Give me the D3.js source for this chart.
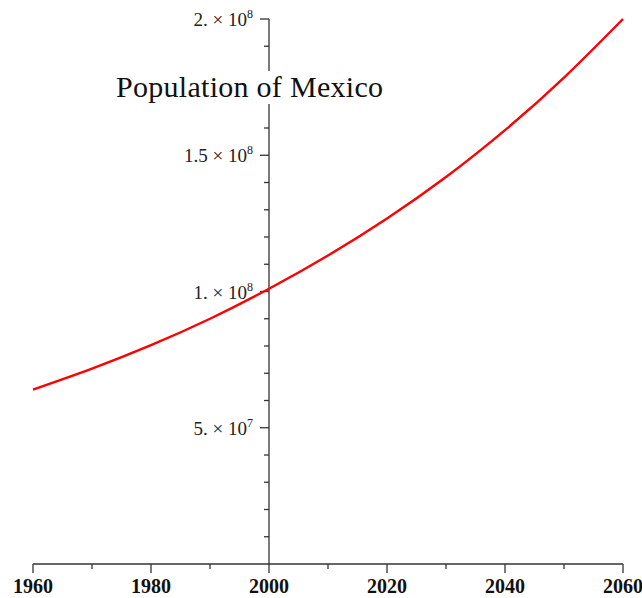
<!DOCTYPE html>
<html>
<head>
<meta charset="utf-8">
<script src="https://cdn.jsdelivr.net/npm/d3@7"></script>
<style>
  body { margin: 0; background: #fff; }
  svg { display: block; }
</style>
</head>
<body>
<div id="chart"></div>
<script>
// values
const years = [1960, 1970, 1980, 1990, 2000, 2010, 2020, 2030, 2040, 2050, 2060];
const population = [6.4e7, 7.17e7, 8.03e7, 9.0e7, 1.01e8, 1.132e8, 1.268e8, 1.42e8, 1.592e8, 1.785e8, 2.0e8];
const xTickValues = [1960, 1980, 2000, 2020, 2040, 2060];
const yTickValues = [5e7, 1e8, 1.5e8, 2e8];
const yTickMant = ["5.", "1.", "1.5", "2."];
const yTickExp = ["7", "8", "8", "8"];
const title = "Population of Mexico";

const width = 642, height = 598;

const svg = d3.select("#chart").append("svg")
    .attr("width", width)
    .attr("height", height);

const xScale = d3.scaleLinear().domain([1960, 2060]).range([33, 623]);
const yScale = d3.scaleLinear().domain([0, 2e8]).range([564, 19]);

const axisColor = "#333";
const serif = "'Liberation Serif', 'Times New Roman', serif";

// x axis (ticks hang below the line)
const xAxis = svg.append("g").attr("transform", "translate(0," + yScale(0) + ")");
xAxis.append("line")
    .attr("x1", xScale(1960)).attr("x2", xScale(2060))
    .attr("stroke", axisColor).attr("stroke-width", 1.3);
xAxis.selectAll(".xtick")
    .data(d3.range(1960, 2061, 10))
    .enter().append("line")
    .attr("x1", d => xScale(d)).attr("x2", d => xScale(d))
    .attr("y1", 0)
    .attr("y2", d => d % 20 === 0 ? 9 : 5)
    .attr("stroke", axisColor).attr("stroke-width", 1.3);
xAxis.selectAll(".xlabel")
    .data(xTickValues)
    .enter().append("text")
    .attr("x", d => xScale(d))
    .attr("y", 29)
    .attr("text-anchor", "middle")
    .style("font-family", serif)
    .style("font-weight", "bold")
    .style("font-size", "20px")
    .style("fill", "#111")
    .text(d => d);

// y axis at 2000, ticks on the left
const yAxis = svg.append("g").attr("transform", "translate(" + xScale(2000) + ",0)");
yAxis.append("line")
    .attr("y1", yScale(0)).attr("y2", yScale(2e8))
    .attr("stroke", axisColor).attr("stroke-width", 1.3);
yAxis.selectAll(".ytick")
    .data(d3.range(1e7, 2.01e8, 1e7))
    .enter().append("line")
    .attr("y1", d => yScale(d)).attr("y2", d => yScale(d))
    .attr("x1", 0)
    .attr("x2", d => Math.round(d / 1e7) % 5 === 0 ? -9 : -5)
    .attr("stroke", axisColor).attr("stroke-width", 1.3);

const ylab = yAxis.selectAll(".ylabel")
    .data(yTickValues)
    .enter().append("text")
    .attr("x", -16)
    .attr("y", d => yScale(d) + 7)
    .attr("text-anchor", "end")
    .style("font-family", serif)
    .style("font-size", "19px")
    .style("fill", "#222");
ylab.append("tspan").text((d, i) => yTickMant[i] + " \u00d7 10");
ylab.append("tspan")
    .attr("dy", -8)
    .style("font-size", "12px")
    .text((d, i) => yTickExp[i]);

// title sits on a white box that hides the axis behind it
svg.append("rect")
    .attr("x", 112).attr("y", 71)
    .attr("width", 276).attr("height", 33)
    .attr("fill", "#fff");
svg.append("text")
    .attr("x", 116)
    .attr("y", 97)
    .attr("textLength", 267)
    .attr("lengthAdjust", "spacing")
    .style("font-family", serif)
    .style("font-size", "30px")
    .style("fill", "#111")
    .text(title);

// curve
const data = years.map((y, i) => ({year: y, pop: population[i]}));
const line = d3.line()
    .x(d => xScale(d.year))
    .y(d => yScale(d.pop))
    .curve(d3.curveNatural);

svg.append("path")
    .datum(data)
    .attr("d", line)
    .attr("fill", "none")
    .attr("stroke", "#ff0000")
    .attr("stroke-width", 2.4);
</script>
</body>
</html>
